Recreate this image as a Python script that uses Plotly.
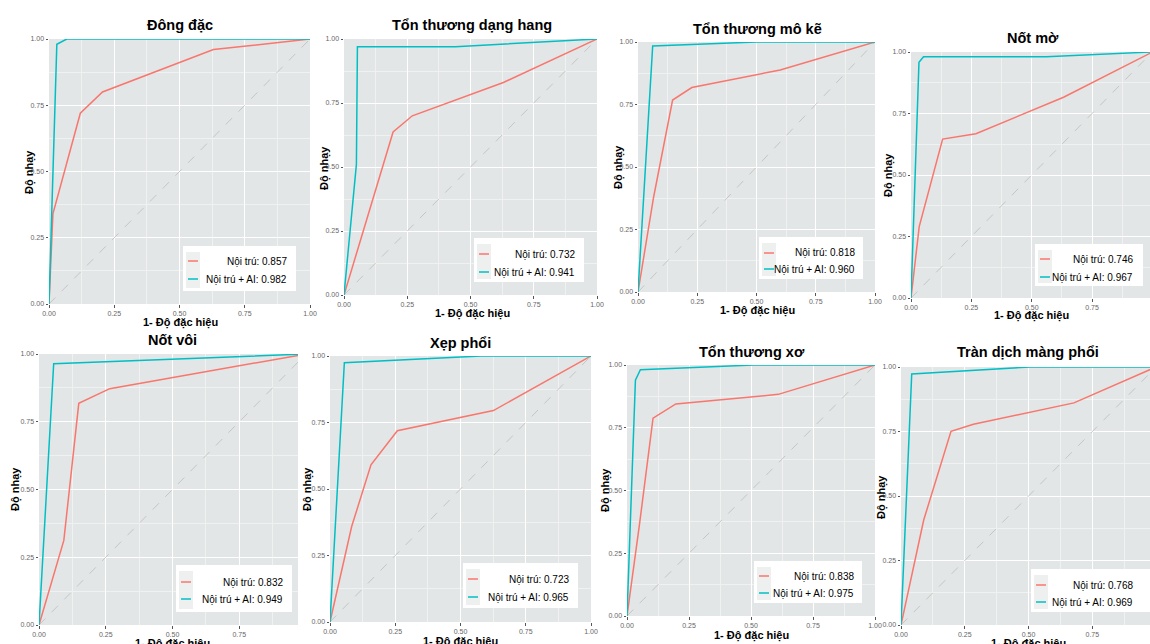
import plotly.graph_objects as go

W, H = 1150, 644

# ---------------- data ----------------
titles = ["Đông đặc", "Tổn thương dạng hang", "Tổn thương mô kẽ", "Nốt mờ",
          "Nốt vôi", "Xẹp phổi", "Tổn thương xơ", "Tràn dịch màng phổi"]
auc_noitru = ["0.857", "0.732", "0.818", "0.746", "0.832", "0.723", "0.838", "0.768"]
auc_ai = ["0.982", "0.941", "0.960", "0.967", "0.949", "0.965", "0.975", "0.969"]

fpr_noitru = [
    [0, 0.015, 0.12, 0.205, 0.63, 1],
    [0, 0.194, 0.27, 0.63, 1],
    [0, 0.066, 0.146, 0.227, 0.60, 1],
    [0, 0.034, 0.131, 0.269, 0.632, 1],
    [0, 0.093, 0.149, 0.265, 1],
    [0, 0.083, 0.157, 0.258, 0.626, 1],
    [0, 0.051, 0.105, 0.197, 0.61, 1],
    [0, 0.089, 0.196, 0.284, 0.678, 1],
]
tpr_noitru = [
    [0, 0.34, 0.72, 0.80, 0.96, 1],
    [0, 0.637, 0.70, 0.83, 1],
    [0, 0.38, 0.768, 0.818, 0.888, 1],
    [0, 0.29, 0.646, 0.668, 0.816, 1],
    [0, 0.312, 0.818, 0.872, 1],
    [0, 0.359, 0.591, 0.719, 0.795, 1],
    [0, 0.37, 0.788, 0.845, 0.883, 1],
    [0, 0.407, 0.751, 0.778, 0.861, 1],
]
fpr_ai = [
    [0, 0.03, 0.068, 1],
    [0, 0.049, 0.053, 0.44, 1],
    [0, 0.062, 0.5, 1],
    [0, 0.033, 0.052, 0.56, 1],
    [0, 0.055, 1],
    [0, 0.055, 0.58, 1],
    [0, 0.034, 0.054, 0.51, 1],
    [0, 0.042, 0.506, 1],
]
tpr_ai = [
    [0, 0.98, 1, 1],
    [0, 0.51, 0.97, 0.97, 1],
    [0, 0.984, 1, 1],
    [0, 0.958, 0.981, 0.981, 1],
    [0, 0.964, 1],
    [0, 0.975, 1, 1],
    [0, 0.94, 0.981, 1, 1],
    [0, 0.973, 1, 1],
]
tick_vals = [0, 0.25, 0.5, 0.75, 1.0]
tick_text = ["0.00", "0.25", "0.50", "0.75", "1.00"]
label_noitru = "Nội trú"
label_ai = "Nội trú + AI"
xlabel = "1- Độ đặc hiệu"
ylabel = "Độ nhạy"

# ---------------- layout (pixel positions of each collage panel) ----------------
plot_box = [  # x0, x1, y0(top), y1(bottom)
    (49, 310, 39, 304), (344, 597, 39, 295), (638, 875, 42, 292), (911, 1150, 52, 298),
    (39, 298, 354, 625), (330, 591, 356, 622), (627, 875, 365, 616), (901, 1150, 367, 625),
]
x_max = [1.0, 1.0, 1.0, 0.99, 0.97, 1.0, 1.0, 0.976]
title_pos = [(180, 25), (472, 25), (757, 29), (1033, 38), (173, 340), (460, 343), (752, 352), (1028, 352)]
ylab_pos = [(30, 172), (324, 168), (618, 167), (888, 175), (15, 489), (307, 489), (605, 490), (881, 497)]
xlab_pos = [(180, 322), (472, 313), (757, 310), (1031, 316), (172, 643), (460, 641), (751, 635), (1028, 643)]
legend_box = [  # x0, x1, y0, y1, line y1, line y2, text right
    (183, 296, 246, 291, 261, 279, 289),
    (474, 584, 238, 282, 254, 272, 577),
    (759, 863, 237, 279, 253, 269, 857),
    (1035, 1143, 244, 286, 259, 277, 1135),
    (176, 292, 565, 612, 582, 599, 285),
    (463, 578, 563, 608, 579, 597, 571),
    (754, 862, 561, 603, 576, 593, 856),
    (1031, 1150, 569, 612, 585, 602, 1135),
]

RED = "#F8766D"
TEAL = "#00BFC4"
BG = "#E3E6E6"
FONT = "Liberation Sans, Arial, sans-serif"


def px(x):
    return x / W


def py(y):
    return 1 - y / H


fig = go.Figure()
layout = dict(
    width=W, height=H, margin=dict(l=0, r=0, t=0, b=0, autoexpand=False),
    paper_bgcolor="white", plot_bgcolor=BG, showlegend=False,
    font=dict(family=FONT),
)
shapes = []
annotations = []

for i in range(8):
    n = "" if i == 0 else str(i + 1)
    xa, ya = "x" + n, "y" + n
    x0, x1, y0, y1 = plot_box[i]
    axis_common = dict(
        tickvals=tick_vals, ticktext=tick_text, ticks="outside", ticklen=2.5,
        tickcolor="#555", tickfont=dict(size=7, color="#666", family=FONT),
        showgrid=True, gridcolor="white", gridwidth=1, zeroline=False,
        showline=False, fixedrange=True, automargin=False,
        minor=dict(dtick=0.125, tick0=0, showgrid=True, gridcolor="#F0F2F2", gridwidth=0.6),
    )
    layout["xaxis" + n] = dict(axis_common, domain=[px(x0), px(x1)], range=[0, x_max[i]],
                               anchor=ya)
    layout["yaxis" + n] = dict(axis_common, domain=[py(y1), py(y0)], range=[0, 1],
                               anchor=xa)
    shapes.append(dict(type="rect", xref=xa + " domain", yref=ya + " domain",
                       x0=0, x1=1, y0=0, y1=1, fillcolor=BG, line=dict(width=0),
                       layer="below"))
    fig.add_trace(go.Scatter(x=[0, 1], y=[0, 1], mode="lines", xaxis=xa, yaxis=ya,
                             line=dict(color="#BDBDBD", width=0.8, dash="dash"),
                             hoverinfo="skip"))
    fig.add_trace(go.Scatter(x=fpr_noitru[i], y=tpr_noitru[i], mode="lines", xaxis=xa,
                             yaxis=ya, line=dict(color=RED, width=1.5),
                             name=label_noitru))
    fig.add_trace(go.Scatter(x=fpr_ai[i], y=tpr_ai[i], mode="lines", xaxis=xa,
                             yaxis=ya, line=dict(color=TEAL, width=1.5),
                             name=label_ai))
    tx, ty = title_pos[i]
    annotations.append(dict(text="<b>%s</b>" % titles[i], x=px(tx), y=py(ty),
                            xref="paper", yref="paper", showarrow=False,
                            font=dict(size=14.5, color="black", family=FONT),
                            xanchor="center", yanchor="middle"))
    lx, ly = ylab_pos[i]
    annotations.append(dict(text="<b>%s</b>" % ylabel, x=px(lx), y=py(ly),
                            xref="paper", yref="paper", showarrow=False, textangle=-90,
                            font=dict(size=11, color="black", family=FONT),
                            xanchor="center", yanchor="middle"))
    bx, by = xlab_pos[i]
    annotations.append(dict(text="<b>%s</b>" % xlabel, x=px(bx), y=py(by),
                            xref="paper", yref="paper", showarrow=False,
                            font=dict(size=11, color="black", family=FONT),
                            xanchor="center", yanchor="middle"))
    lb = legend_box[i]
    shapes.append(dict(type="rect", xref="paper", yref="paper",
                       x0=px(lb[0]), x1=px(lb[1]), y0=py(lb[3]), y1=py(lb[2]),
                       fillcolor="white", line=dict(width=0), layer="above"))
    shapes.append(dict(type="rect", xref="paper", yref="paper",
                       x0=px(lb[0] + 3), x1=px(lb[0] + 17), y0=py(lb[3] - 3),
                       y1=py(lb[2] + 6), fillcolor="#EEF0F0", line=dict(width=0),
                       layer="above"))
    for ly_, col in ((lb[4], RED), (lb[5], TEAL)):
        shapes.append(dict(type="line", xref="paper", yref="paper",
                           x0=px(lb[0] + 5), x1=px(lb[0] + 15), y0=py(ly_), y1=py(ly_),
                           line=dict(color=col, width=1.5), layer="above"))
    for ly_, lab, auc in ((lb[4], label_noitru, auc_noitru[i]),
                          (lb[5], label_ai, auc_ai[i])):
        annotations.append(dict(text="%s: %s" % (lab, auc), x=px(lb[6]), y=py(ly_),
                                xref="paper", yref="paper", showarrow=False,
                                font=dict(size=10, color="black", family=FONT),
                                xanchor="right", yanchor="middle"))

layout["shapes"] = shapes
layout["annotations"] = annotations
fig.update_layout(**layout)
fig.write_html("out.html", config={"displayModeBar": False},
               post_script="document.body.style.margin='0px';document.body.style.overflow='hidden';")
